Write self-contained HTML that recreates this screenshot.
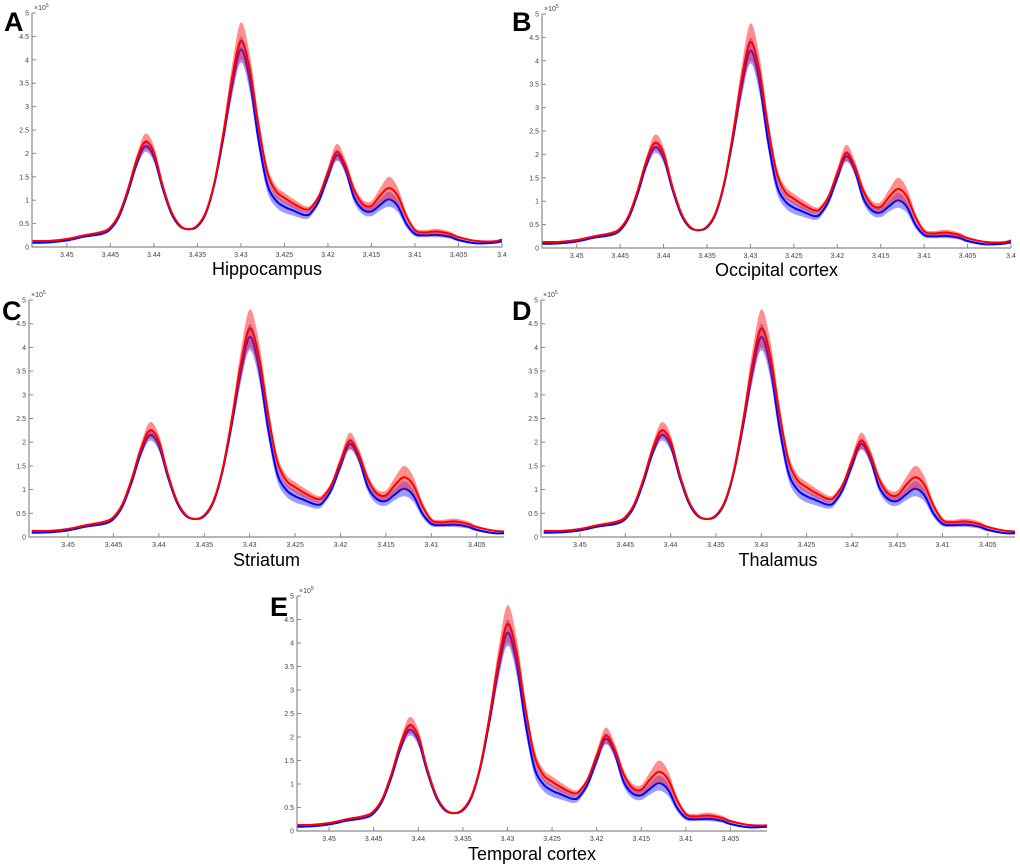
<!DOCTYPE html>
<html><head><meta charset="utf-8"><style>
html,body{margin:0;padding:0;background:#fff;}
svg{display:block;}
text{font-family:"Liberation Sans",Arial,sans-serif;}
</style></head><body>
<svg id="fig" width="1020" height="867" viewBox="0 0 1020 867"></svg>
<script>
// chemical shift (ppm) samples
const ppm = [3.454,3.452,3.450,3.448,3.446,3.445,3.444,3.443,3.442,3.441,3.440,3.439,3.438,3.437,3.436,3.435,3.434,3.433,3.432,3.431,3.430,3.429,3.428,3.427,3.426,3.425,3.424,3.423,3.4225,3.422,3.421,3.420,3.419,3.418,3.417,3.416,3.415,3.414,3.413,3.412,3.411,3.410,3.409,3.4075,3.406,3.405,3.403,3.401,3.400];
// group 1 (red) mean, x1e5
const redMean = [0.13,0.13,0.17,0.25,0.32,0.42,0.70,1.22,1.85,2.25,2.02,1.32,0.76,0.46,0.38,0.46,0.76,1.42,2.45,3.62,4.40,3.82,2.62,1.62,1.20,1.05,0.93,0.83,0.80,0.83,1.10,1.60,2.03,1.75,1.22,0.92,0.88,1.10,1.26,1.10,0.66,0.36,0.31,0.33,0.28,0.21,0.13,0.12,0.16];
// group 2 (blue) mean, x1e5
const blueMean = [0.09,0.10,0.14,0.22,0.28,0.38,0.65,1.15,1.76,2.15,1.92,1.26,0.72,0.44,0.38,0.44,0.73,1.38,2.35,3.45,4.22,3.58,2.32,1.36,1.00,0.86,0.78,0.70,0.68,0.72,1.00,1.50,1.96,1.66,1.06,0.80,0.76,0.90,1.02,0.88,0.50,0.28,0.25,0.26,0.22,0.15,0.08,0.09,0.12];
// band half-widths (standard error), x1e5
const redErr = [0.02,0.02,0.02,0.02,0.03,0.03,0.04,0.06,0.10,0.17,0.14,0.08,0.04,0.02,0.02,0.02,0.04,0.08,0.15,0.28,0.40,0.32,0.20,0.14,0.12,0.11,0.10,0.08,0.07,0.06,0.06,0.10,0.17,0.13,0.10,0.09,0.10,0.16,0.24,0.18,0.09,0.05,0.05,0.06,0.05,0.03,0.02,0.02,0.02];
const blueErr = [0.02,0.02,0.02,0.02,0.02,0.03,0.04,0.05,0.08,0.12,0.10,0.06,0.03,0.02,0.02,0.02,0.03,0.07,0.13,0.22,0.28,0.24,0.18,0.16,0.14,0.13,0.11,0.09,0.08,0.07,0.07,0.09,0.12,0.10,0.10,0.10,0.10,0.12,0.16,0.13,0.08,0.05,0.04,0.05,0.04,0.03,0.02,0.02,0.02];
const yTicks = [0,0.5,1,1.5,2,2.5,3,3.5,4,4.5,5];
const yTickLabels = ["0","0.5","1","1.5","2","2.5","3","3.5","4","4.5","5"];
const xTicks = [3.45,3.445,3.44,3.435,3.43,3.425,3.42,3.415,3.41,3.405,3.4];
const xTickLabels = ["3.45","3.445","3.44","3.435","3.43","3.425","3.42","3.415","3.41","3.405","3.4"];
const panelLetters = ["A","B","C","D","E"];
const panelTitles = ["Hippocampus","Occipital cortex","Striatum","Thalamus","Temporal cortex"];

const panels = [
 {L:32,R:502,T:13,B:247,x0:3.454,x1:3.400,ty:275,lx:4,ly:31},
 {L:542,R:1011,T:14,B:248,x0:3.454,x1:3.400,ty:276,lx:512,ly:31},
 {L:29,R:504,T:300,B:537,x0:3.4543,x1:3.402,ty:566,lx:2,ly:320},
 {L:541,R:1015,T:300,B:537,x0:3.4543,x1:3.402,ty:566,lx:512,ly:320},
 {L:297,R:767,T:596,B:831,x0:3.4536,x1:3.4009,ty:860,lx:270,ly:616}
];
const NS="http://www.w3.org/2000/svg";
const svg=document.getElementById('fig');
function mk(tag,attrs,parent){const e=document.createElementNS(NS,tag);for(const k in attrs)e.setAttribute(k,attrs[k]);(parent||svg).appendChild(e);return e;}
function smooth(pts){
 let d="M"+pts[0][0].toFixed(2)+","+pts[0][1].toFixed(2);
 for(let i=0;i<pts.length-1;i++){
  const p0=pts[Math.max(i-1,0)],p1=pts[i],p2=pts[i+1],p3=pts[Math.min(i+2,pts.length-1)];
  const c1=[p1[0]+(p2[0]-p0[0])/6,p1[1]+(p2[1]-p0[1])/6];
  const c2=[p2[0]-(p3[0]-p1[0])/6,p2[1]-(p3[1]-p1[1])/6];
  d+="C"+c1[0].toFixed(2)+","+c1[1].toFixed(2)+" "+c2[0].toFixed(2)+","+c2[1].toFixed(2)+" "+p2[0].toFixed(2)+","+p2[1].toFixed(2);
 }
 return d;
}
panels.forEach((p,pi)=>{
 const g=mk('g',{});
 
 
 const clipId='clip'+pi;
 const cp=mk('clipPath',{id:clipId},g);mk('rect',{x:p.L,y:p.T-5,width:p.R-p.L,height:p.B-p.T+5},cp);
 const xs=v=>p.L+(p.x0-v)/(p.x0-p.x1)*(p.R-p.L);
 const ys=v=>p.B-v/5*(p.B-p.T);
 const plot=mk('g',{'clip-path':'url(#'+clipId+')'},g);
 function band(mean,err,color,name){
  const up=ppm.map((x,i)=>[xs(x),ys(mean[i]+err[i])]);
  const lo=ppm.map((x,i)=>[xs(x),ys(mean[i]-err[i])]).reverse();
  const d=smooth(up)+"L"+smooth(lo).slice(1)+"Z";
  const e=mk('path',{d:d,fill:color,'fill-opacity':0.5,stroke:'none'},plot);
  
  
 }
 function line(mean,color,name){
  const e=mk('path',{d:smooth(ppm.map((x,i)=>[xs(x),ys(mean[i])])),fill:'none',stroke:color,'stroke-width':2},plot);
  
  
 }
 band(blueMean,blueErr,'#3b3bff','blue-error-band');
 line(blueMean,'#0000ff','blue-mean-line');
 band(redMean,redErr,'#ff2020','red-error-band');
 line(redMean,'#ff0000','red-mean-line');
 // axes
 const ax=mk('path',{d:`M${p.L},${p.T}V${p.B}H${p.R}`,fill:'none',stroke:'#8a8a8a','stroke-width':1.2},g);
 
 
 yTicks.forEach((v,i)=>{
  mk('line',{x1:p.L,x2:p.L+4,y1:ys(v),y2:ys(v),stroke:'#8a8a8a','stroke-width':1},g);
  const t=mk('text',{x:p.L-3,y:ys(v)+2.5,'font-size':7,fill:'#444','text-anchor':'end'},g);
  t.textContent=yTickLabels[i];
  
  
 });
 xTicks.forEach((v,i)=>{
  const x=xs(v); if(x<p.L||x>p.R+1)return;
  mk('line',{x1:x,x2:x,y1:p.B,y2:p.B-4,stroke:'#8a8a8a','stroke-width':1},g);
  const t=mk('text',{x:x,y:p.B+10,'font-size':7,fill:'#444','text-anchor':'middle'},g);
  t.textContent=xTickLabels[i];
  
  
 });
 const ex=mk('text',{x:p.L+2,y:p.T-3,'font-size':7,fill:'#444'},g);
 ex.textContent='×10';
 
 
 const es=mk('tspan',{dy:-3,'font-size':5},ex);es.textContent='5';
 const ti=mk('text',{x:(p.L+p.R)/2,y:p.ty,'font-size':18,fill:'#000','text-anchor':'middle'},g);
 ti.textContent=panelTitles[pi];
 
 
 const lt=mk('text',{x:p.lx,y:p.ly,'font-size':27,'font-weight':'bold',fill:'#000'},g);
 lt.textContent=panelLetters[pi];
 
 
});
</script>
</body></html>
